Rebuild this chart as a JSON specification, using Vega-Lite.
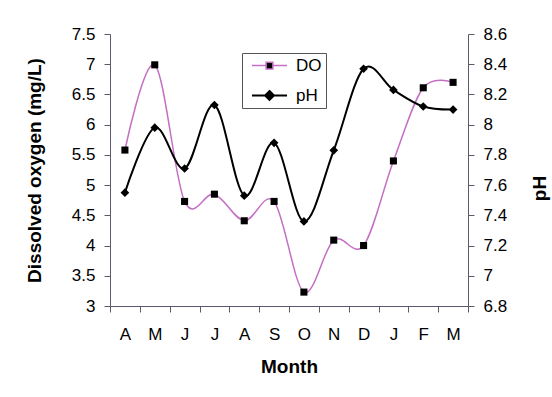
{
  "$schema": "https://vega.github.io/schema/vega-lite/v6.json",
  "width": 358,
  "height": 272,
  "autosize": {"type": "none"},
  "padding": {"left": 110, "top": 34, "right": 84, "bottom": 91},
  "background": "white",
  "config": {
    "font": "Liberation Sans",
    "view": {"stroke": null},
    "axis": {
      "grid": false,
      "domainColor": "#5a5a6a",
      "tickColor": "#5a5a6a",
      "labelColor": "black",
      "titleColor": "black",
      "labelFont": "Liberation Sans",
      "titleFont": "Liberation Sans",
      "labelFontSize": 17,
      "titleFontSize": 19,
      "titleFontWeight": "bold",
      "tickSize": 6
    }
  },
  "data": {
    "values": [
      {"month": "Apr", "series": "DO", "value": 5.58},
      {"month": "May", "series": "DO", "value": 6.99},
      {"month": "Jun", "series": "DO", "value": 4.73},
      {"month": "Jul", "series": "DO", "value": 4.85},
      {"month": "Aug", "series": "DO", "value": 4.41},
      {"month": "Sep", "series": "DO", "value": 4.73},
      {"month": "Oct", "series": "DO", "value": 3.23},
      {"month": "Nov", "series": "DO", "value": 4.09},
      {"month": "Dec", "series": "DO", "value": 4.0},
      {"month": "Jan", "series": "DO", "value": 5.4},
      {"month": "Feb", "series": "DO", "value": 6.61},
      {"month": "Mar", "series": "DO", "value": 6.7},
      {"month": "Apr", "series": "pH", "value": 7.55},
      {"month": "May", "series": "pH", "value": 7.98},
      {"month": "Jun", "series": "pH", "value": 7.71},
      {"month": "Jul", "series": "pH", "value": 8.13},
      {"month": "Aug", "series": "pH", "value": 7.53},
      {"month": "Sep", "series": "pH", "value": 7.88},
      {"month": "Oct", "series": "pH", "value": 7.36},
      {"month": "Nov", "series": "pH", "value": 7.83},
      {"month": "Dec", "series": "pH", "value": 8.37},
      {"month": "Jan", "series": "pH", "value": 8.23},
      {"month": "Feb", "series": "pH", "value": 8.12},
      {"month": "Mar", "series": "pH", "value": 8.1}
    ]
  },
  "encoding": {
    "x": {
      "field": "month",
      "type": "nominal",
      "sort": ["Apr", "May", "Jun", "Jul", "Aug", "Sep", "Oct", "Nov", "Dec", "Jan", "Feb", "Mar"],
      "scale": {"type": "band", "paddingInner": 0, "paddingOuter": 0},
      "axis": {
        "title": "Month",
        "labelAngle": 0,
        "labelExpr": "substring(datum.label, 0, 1)",
        "tickBand": "extent",
        "labelPadding": 14,
        "titlePadding": 15
      }
    }
  },
  "layer": [
    {
      "transform": [{"filter": "datum.series === 'DO'"}],
      "encoding": {
        "y": {
          "field": "value",
          "type": "quantitative",
          "scale": {"domain": [3, 7.5], "nice": false, "zero": false},
          "axis": {
            "orient": "left",
            "title": "Dissolved oxygen (mg/L)",
            "values": [3, 3.5, 4, 4.5, 5, 5.5, 6, 6.5, 7, 7.5],
            "format": ".1~f",
            "labelPadding": 9,
            "titlePadding": 27
          }
        }
      },
      "layer": [
        {
          "mark": {"type": "line", "interpolate": "cardinal", "strokeWidth": 1.5},
          "encoding": {
            "color": {
              "field": "series",
              "type": "nominal",
              "scale": {"domain": ["DO", "pH"], "range": ["#c46fc4", "#000000"]},
              "legend": {
                "title": null,
                "orient": "none",
                "legendX": 132,
                "legendY": 19,
                "padding": 4,
                "symbolOffset": 15,
                "labelOffset": 18,
                "rowPadding": 12,
                "labelFontSize": 17,
                "labelFont": "Liberation Sans",
                "labelColor": "black",
                "strokeColor": "#555555",
                "fillColor": "white",
                "symbolStrokeWidth": 1.5,
                "encode": {
                  "symbols": {
                    "update": {
                      "shape": {"signal": "datum.value === 'DO' ? 'M-1.3,0H-0.25M0.25,0H1.3M-0.25,-0.25H0.25V0.25H-0.25Z' : 'M-1.3,0H-0.33M0.33,0H1.3M0,-0.33L0.33,0L0,0.33L-0.33,0Z'"},
                      "size": {"value": 729},
                      "fill": {"value": "black"},
                      "strokeWidth": {"signal": "datum.value === 'pH' ? 2 : 1.5"}
                    }
                  }
                }
              }
            }
          }
        },
        {
          "mark": {"type": "point", "shape": "square", "filled": true, "size": 50, "color": "black", "opacity": 1}
        }
      ]
    },
    {
      "transform": [{"filter": "datum.series === 'pH'"}],
      "encoding": {
        "y": {
          "field": "value",
          "type": "quantitative",
          "scale": {"domain": [6.8, 8.6], "nice": false, "zero": false},
          "axis": {
            "orient": "right",
            "title": "pH",
            "values": [6.8, 7, 7.2, 7.4, 7.6, 7.8, 8, 8.2, 8.4, 8.6],
            "format": ".1~f",
            "labelPadding": 9,
            "titlePadding": 24,
            "titleAngle": 270,
            "titleBaseline": "top",
            "titleY": 154
          }
        }
      },
      "layer": [
        {
          "mark": {"type": "line", "interpolate": "cardinal", "strokeWidth": 2},
          "encoding": {"color": {"field": "series", "type": "nominal"}}
        },
        {
          "mark": {"type": "point", "shape": "diamond", "filled": true, "size": 75, "color": "black", "opacity": 1}
        }
      ]
    }
  ],
  "resolve": {"scale": {"y": "independent"}}
}
